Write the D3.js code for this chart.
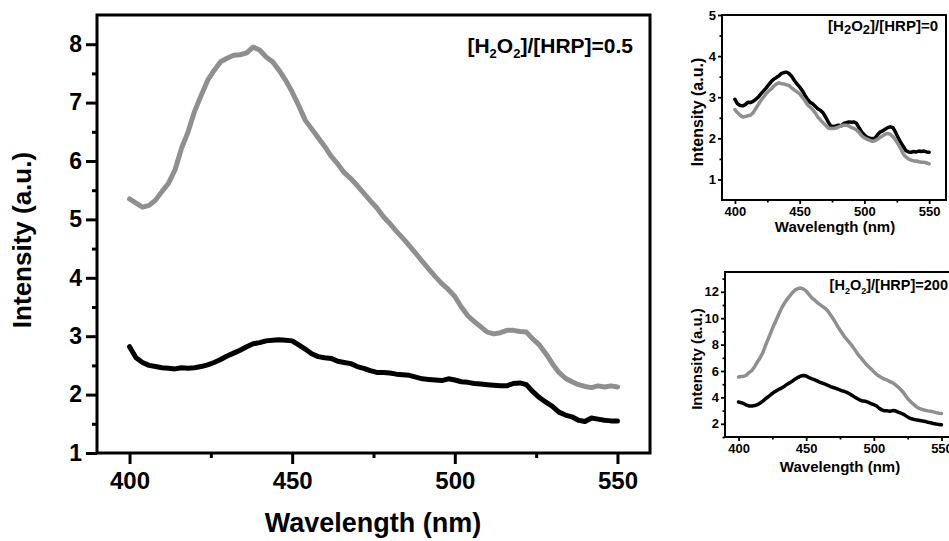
<!DOCTYPE html>
<html><head><meta charset="utf-8">
<script src="https://cdn.jsdelivr.net/npm/d3@7"></script>
<style>
html,body{margin:0;padding:0;background:#fff;}
svg{display:block;font-family:"Liberation Sans",Arial,sans-serif;font-weight:bold;}
</style></head>
<body>
<svg id="chart" width="949" height="541"></svg>
<script>
// ---------- DATA ----------
const wavelength = [400,402,404,406,408,410,412,414,416,418,420,422,424,426,428,430,432,434,436,438,440,442,444,446,448,450,452,454,456,458,460,462,464,466,468,470,472,474,476,478,480,482,484,486,488,490,492,494,496,498,500,502,504,506,508,510,512,514,516,518,520,522,524,526,528,530,532,534,536,538,540,542,544,546,548,550];

// Main panel: [H2O2]/[HRP]=0.5
const mainGray  = [5.35,5.28,5.21,5.24,5.33,5.48,5.62,5.85,6.22,6.50,6.85,7.12,7.38,7.55,7.70,7.76,7.81,7.82,7.85,7.95,7.90,7.78,7.70,7.55,7.38,7.18,6.95,6.70,6.55,6.40,6.25,6.08,5.95,5.80,5.70,5.58,5.45,5.32,5.20,5.05,4.93,4.80,4.68,4.55,4.42,4.28,4.15,4.02,3.90,3.80,3.68,3.50,3.35,3.25,3.16,3.07,3.04,3.06,3.10,3.10,3.08,3.07,2.95,2.85,2.70,2.53,2.38,2.28,2.22,2.17,2.14,2.12,2.15,2.13,2.15,2.13];
const mainBlack = [2.82,2.63,2.55,2.50,2.48,2.46,2.45,2.44,2.46,2.45,2.46,2.48,2.51,2.55,2.60,2.66,2.71,2.76,2.82,2.87,2.89,2.92,2.93,2.94,2.93,2.92,2.85,2.78,2.70,2.65,2.63,2.62,2.57,2.55,2.53,2.48,2.45,2.41,2.38,2.38,2.37,2.35,2.34,2.33,2.30,2.27,2.26,2.25,2.24,2.27,2.25,2.22,2.21,2.19,2.18,2.17,2.16,2.15,2.15,2.19,2.20,2.17,2.05,1.95,1.87,1.80,1.70,1.65,1.62,1.56,1.54,1.60,1.58,1.56,1.55,1.55];

// Inset 1: [H2O2]/[HRP]=0
const inset1Black = [2.95,2.84,2.80,2.79,2.82,2.88,2.87,2.90,2.95,3.00,3.08,3.15,3.22,3.30,3.38,3.44,3.48,3.52,3.58,3.60,3.61,3.57,3.50,3.40,3.32,3.25,3.16,3.05,2.95,2.88,2.84,2.78,2.72,2.68,2.62,2.52,2.40,2.30,2.29,2.30,2.32,2.30,2.36,2.38,2.40,2.39,2.40,2.36,2.25,2.15,2.08,2.03,2.00,1.99,2.00,2.08,2.15,2.18,2.22,2.26,2.28,2.26,2.15,2.02,1.90,1.80,1.70,1.67,1.66,1.68,1.67,1.69,1.68,1.69,1.67,1.66];
const inset1Gray  = [2.70,2.62,2.56,2.52,2.53,2.55,2.56,2.62,2.72,2.82,2.92,3.00,3.08,3.15,3.20,3.27,3.32,3.35,3.33,3.32,3.30,3.28,3.22,3.17,3.13,3.08,3.00,2.92,2.82,2.76,2.70,2.62,2.52,2.45,2.38,2.32,2.25,2.24,2.24,2.25,2.28,2.30,2.32,2.32,2.30,2.26,2.24,2.20,2.14,2.06,2.01,1.98,1.95,1.93,1.94,1.98,2.02,2.06,2.10,2.12,2.10,2.04,1.96,1.86,1.75,1.62,1.55,1.50,1.47,1.45,1.45,1.43,1.42,1.42,1.40,1.38];

// Inset 2: [H2O2]/[HRP]=200
const inset2Gray  = [5.55,5.58,5.60,5.70,5.90,6.05,6.35,6.70,7.00,7.40,7.95,8.45,8.95,9.45,9.90,10.35,10.80,11.15,11.45,11.70,11.95,12.15,12.25,12.28,12.20,12.05,11.80,11.55,11.40,11.20,11.05,10.90,10.75,10.55,10.25,9.95,9.60,9.25,8.95,8.65,8.40,8.15,7.90,7.60,7.30,7.05,6.80,6.55,6.35,6.15,5.95,5.75,5.60,5.48,5.38,5.30,5.20,5.10,4.95,4.78,4.58,4.35,4.05,3.80,3.60,3.42,3.25,3.15,3.08,3.02,2.98,2.95,2.90,2.85,2.80,2.78];
const inset2Black = [3.65,3.60,3.52,3.42,3.35,3.35,3.38,3.45,3.58,3.72,3.90,4.05,4.22,4.38,4.50,4.62,4.72,4.85,5.00,5.12,5.25,5.40,5.52,5.62,5.66,5.62,5.50,5.42,5.35,5.25,5.15,5.08,5.00,4.92,4.82,4.75,4.68,4.60,4.52,4.45,4.38,4.28,4.15,4.02,3.90,3.78,3.72,3.70,3.62,3.52,3.45,3.35,3.18,3.05,2.98,2.98,2.95,3.00,2.98,2.88,2.80,2.72,2.58,2.45,2.38,2.32,2.28,2.25,2.22,2.18,2.12,2.08,2.02,1.98,1.95,1.92];

const xTicks = [400,450,500,550];
const xMinorTicks = [425,475,525];
const mainYTicks = [1,2,3,4,5,6,7,8];
const mainYMinor = [1.5,2.5,3.5,4.5,5.5,6.5,7.5];
const inset1YTicks = [1,2,3,4,5];
const inset1YMinor = [1.5,2.5,3.5,4.5];
const inset2YTicks = [2,4,6,8,10,12];
const inset2YMinor = [1,3,5,7,9,11,13];

const GRAY = "#8f8f8f", BLACK = "#000";

const svg = d3.select("#chart");

function panel(cfg){
  const g = svg.append("g");
  const x = d3.scaleLinear().domain(cfg.xDomain).range([cfg.left, cfg.right]);
  const y = d3.scaleLinear().domain(cfg.yDomain).range([cfg.bottom, cfg.top]);
  const clipId = "clip" + cfg.id;
  svg.append("clipPath").attr("id", clipId).append("rect")
    .attr("x", cfg.left).attr("y", cfg.top)
    .attr("width", cfg.right - cfg.left).attr("height", cfg.bottom - cfg.top);

  const line = d3.line().x((d,i)=>x(wavelength[i])).y(d=>y(d));
  cfg.series.forEach(s=>{
    g.append("path").datum(s.values)
      .attr("clip-path", `url(#${clipId})`)
      .attr("fill","none").attr("stroke", s.color)
      .attr("stroke-width", cfg.lineW).attr("stroke-linejoin","round").attr("stroke-linecap","round")
      .attr("d", line);
  });

  // x axis
  const xa = g.append("g").attr("transform",`translate(0,${cfg.bottom})`)
    .call(d3.axisBottom(x).tickValues(xTicks).tickSize(cfg.majorLen).tickPadding(cfg.xPad).tickFormat(d3.format("d")));
  xa.select(".domain").remove();
  xa.selectAll("line").attr("stroke","#000").attr("stroke-width",cfg.tickW);
  xa.selectAll("text").attr("fill","#000").attr("font-size",cfg.xFont).attr("font-family",null);
  const xm = g.append("g").attr("transform",`translate(0,${cfg.bottom})`)
    .call(d3.axisBottom(x).tickValues(xMinorTicks).tickSize(cfg.minorLen).tickFormat(""));
  xm.select(".domain").remove();
  xm.selectAll("line").attr("stroke","#000").attr("stroke-width",cfg.tickW);

  // y axis
  const ya = g.append("g").attr("transform",`translate(${cfg.left},0)`)
    .call(d3.axisLeft(y).tickValues(cfg.yTicks).tickSize(cfg.majorLen).tickPadding(cfg.yPad).tickFormat(d3.format("d")));
  ya.select(".domain").remove();
  ya.selectAll("line").attr("stroke","#000").attr("stroke-width",cfg.tickW);
  ya.selectAll("text").attr("fill","#000").attr("font-size",cfg.yFont).attr("font-family",null);
  const ym = g.append("g").attr("transform",`translate(${cfg.left},0)`)
    .call(d3.axisLeft(y).tickValues(cfg.yMinor).tickSize(cfg.minorLen).tickFormat(""));
  ym.select(".domain").remove();
  ym.selectAll("line").attr("stroke","#000").attr("stroke-width",cfg.tickW);

  // frame
  g.append("rect").attr("x",cfg.left).attr("y",cfg.top)
    .attr("width",cfg.right-cfg.left).attr("height",cfg.bottom-cfg.top)
    .attr("fill","none").attr("stroke","#000").attr("stroke-width",cfg.frameW);

  // titles
  g.append("text").attr("x",cfg.xTitle[0]).attr("y",cfg.xTitle[1])
    .attr("text-anchor","middle").attr("font-size",cfg.xTitleFont).text("Wavelength (nm)");
  g.append("text").attr("transform",`translate(${cfg.yTitle[0]},${cfg.yTitle[1]}) rotate(-90)`)
    .attr("text-anchor","middle").attr("font-size",cfg.yTitleFont).text("Intensity (a.u.)");

  // annotation
  const a = cfg.ann;
  const t = g.append("text").attr("x",a.x).attr("y",a.y).attr("text-anchor","end").attr("font-size",a.size);
  t.append("tspan").text("[H");
  t.append("tspan").attr("font-size",a.sub).attr("dy",a.dy).text("2");
  t.append("tspan").attr("dy",-a.dy).text("O");
  t.append("tspan").attr("font-size",a.sub).attr("dy",a.dy).text("2");
  t.append("tspan").attr("dy",-a.dy).text("]/[HRP]=" + a.value);
}

panel({
  id:"main", left:97, right:650, top:15, bottom:453,
  xDomain:[390,560], yDomain:[1,8.5],
  yTicks:mainYTicks, yMinor:mainYMinor,
  series:[{values:mainGray,color:GRAY},{values:mainBlack,color:BLACK}],
  lineW:5, tickW:3, frameW:3, majorLen:11, minorLen:5, xPad:8, yPad:4,
  xFont:"24px", yFont:"23px", xTitleFont:"27px", yTitleFont:"26px",
  xTitle:[373,532], yTitle:[31,240],
  ann:{x:633,y:53,size:"21px",sub:"13px",dy:5,value:"0.5"}
});

panel({
  id:"in1", left:722, right:946, top:15, bottom:200,
  xDomain:[390,563], yDomain:[0.5,5],
  yTicks:inset1YTicks, yMinor:inset1YMinor,
  series:[{values:inset1Black,color:BLACK},{values:inset1Gray,color:GRAY}],
  lineW:3.5, tickW:1.8, frameW:2, majorLen:4, minorLen:2.5, xPad:3, yPad:2,
  xFont:"13px", yFont:"13px", xTitleFont:"15px", yTitleFont:"16px",
  xTitle:[835,232], yTitle:[703,112],
  ann:{x:938,y:31,size:"15px",sub:"13px",dy:3,value:"0"}
});

panel({
  id:"in2", left:725, right:955, top:272, bottom:437,
  xDomain:[390,560], yDomain:[1,13.5],
  yTicks:inset2YTicks, yMinor:inset2YMinor,
  series:[{values:inset2Gray,color:GRAY},{values:inset2Black,color:BLACK}],
  lineW:3.5, tickW:1.8, frameW:2, majorLen:4, minorLen:2.5, xPad:3, yPad:2,
  xFont:"13px", yFont:"13px", xTitleFont:"15px", yTitleFont:"15px",
  xTitle:[840,472], yTitle:[702,359],
  ann:{x:948,y:290,size:"14.5px",sub:"9px",dy:4,value:"200"}
});
</script>
</body></html>
